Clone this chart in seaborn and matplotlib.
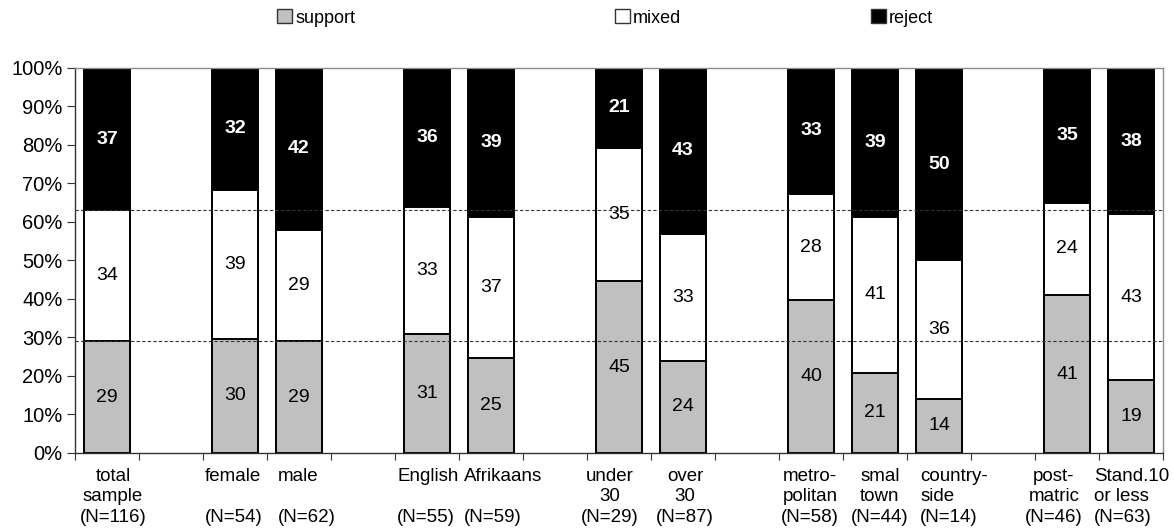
import numpy as np
import pandas as pd
import matplotlib
matplotlib.use("Agg")
import matplotlib.pyplot as plt
import matplotlib.transforms as mtransforms
import seaborn as sns
from matplotlib.patches import Patch

# bar slots (gaps between groups are empty slots)
positions = [0, 2, 3, 5, 6, 8, 9, 11, 12, 13, 15, 16]
labels = [
    "total\nsample\n(N=116)",
    "female\n\n(N=54)",
    "male\n\n(N=62)",
    "English\n\n(N=55)",
    "Afrikaans\n\n(N=59)",
    "under\n30\n(N=29)",
    "over\n30\n(N=87)",
    "metro-\npolitan\n(N=58)",
    "smal\ntown\n(N=44)",
    "country-\nside\n(N=14)",
    "post-\nmatric\n(N=46)",
    "Stand.10\nor less\n(N=63)",
]
support = [29, 30, 29, 31, 25, 45, 24, 40, 21, 14, 41, 19]
mixed = [34, 39, 29, 33, 37, 35, 33, 28, 41, 36, 24, 43]
reject = [37, 32, 42, 36, 39, 21, 43, 33, 39, 50, 35, 38]

# category label placement (pixel shift, line alignment) - mimics the original wrapping
label_dx = [6, -1, 8, 1, 12, -9, 2, -1, 5, 15, -13, 1]
label_align = ["center", "left", "left", "left", "left", "center",
               "center", "center", "center", "left", "center", "left"]

C_SUPPORT = "#c0c0c0"
C_MIXED = "#ffffff"
C_REJECT = "#000000"
FS = 13.5


def build_frame():
    df = pd.DataFrame({"pos": positions, "label": labels,
                       "support": support, "mixed": mixed, "reject": reject})
    tot = df[["support", "mixed", "reject"]].sum(axis=1)
    df["s_share"] = df["support"] / tot * 100
    df["m_share"] = df["mixed"] / tot * 100
    df["r_share"] = df["reject"] / tot * 100
    df["top_sm"] = df["s_share"] + df["m_share"]
    df["top_all"] = 100.0
    return df


def main():
    plt.rcParams["font.family"] = ["Liberation Sans", "DejaVu Sans"]
    plt.rcParams["font.size"] = FS

    df = build_frame()

    fig = plt.figure(figsize=(11.74, 5.31), dpi=100)
    ax = fig.add_axes([0.0639, 0.147, 0.9267, 0.725])

    bar_kw = dict(x="pos", native_scale=True, width=0.73, edgecolor="black",
                  linewidth=1.4, ax=ax, orient="x")
    sns.barplot(data=df, y="top_all", color=C_REJECT, saturation=1, **bar_kw)
    sns.barplot(data=df, y="top_sm", color=C_MIXED, saturation=1, **bar_kw)
    sns.barplot(data=df, y="s_share", color=C_SUPPORT, saturation=1, **bar_kw)

    # reference lines from the total sample
    ref_s = df.loc[0, "s_share"]
    ref_sm = df.loc[0, "top_sm"]
    for yv in (ref_s, ref_sm):
        ax.axhline(yv, color="#333333", lw=0.8, ls=(0, (3, 2)), zorder=5)

    for _, r in df.iterrows():
        ax.text(r["pos"], r["s_share"] / 2, f"{r['support']}", ha="center",
                va="center", fontsize=14, color="black", zorder=6)
        ax.text(r["pos"], r["s_share"] + r["m_share"] / 2, f"{r['mixed']}",
                ha="center", va="center", fontsize=14, color="black", zorder=6)
        ax.text(r["pos"], r["top_sm"] + r["r_share"] / 2, f"{r['reject']}",
                ha="center", va="center", fontsize=14, color="white",
                fontweight="bold", zorder=6)

    ax.set_xlim(-0.5, 16.5)
    ax.set_ylim(0, 100)
    ax.set_yticks(np.arange(0, 101, 10))
    ax.set_yticklabels([f"{v}%" for v in range(0, 101, 10)])
    ax.set_xticks(np.arange(-0.5, 17, 1))
    ax.set_xticklabels([])
    ax.tick_params(axis="x", which="major", length=5, direction="out", color="#333333")
    ax.tick_params(axis="y", length=6, direction="out", color="#333333", labelsize=14.5, pad=3)
    ax.set_xlabel("")
    ax.set_ylabel("")

    # category labels under the bars
    base = ax.get_xaxis_transform()
    for p, lab, dx, al in zip(positions, labels, label_dx, label_align):
        tr = mtransforms.offset_copy(base, fig=fig, x=dx, y=-15, units="dots")
        ax.text(p, 0, lab, transform=tr, ha="center", va="top", fontsize=FS,
                multialignment=al, linespacing=1.27)

    for side in ("top", "right"):
        ax.spines[side].set_color("#8c8c8c")
        ax.spines[side].set_linewidth(1.0)
    for side in ("left", "bottom"):
        ax.spines[side].set_color("#333333")
        ax.spines[side].set_linewidth(1.0)

    # legend entries spread along the top like the original
    entries = [("support", C_SUPPORT, 0.236), ("mixed", C_MIXED, 0.524), ("reject", C_REJECT, 0.742)]
    for name, col, xpos in entries:
        h = Patch(facecolor=col, edgecolor="#333333", linewidth=1.0, label=name)
        fig.legend(handles=[h], loc="center left", bbox_to_anchor=(xpos, 0.966),
                   frameon=False, fontsize=13, handlelength=0.8, handleheight=0.8,
                   handletextpad=0.2, borderpad=0, borderaxespad=0)

    fig.savefig("out.png", dpi=100)
    plt.close(fig)


if __name__ == "__main__":
    main()
